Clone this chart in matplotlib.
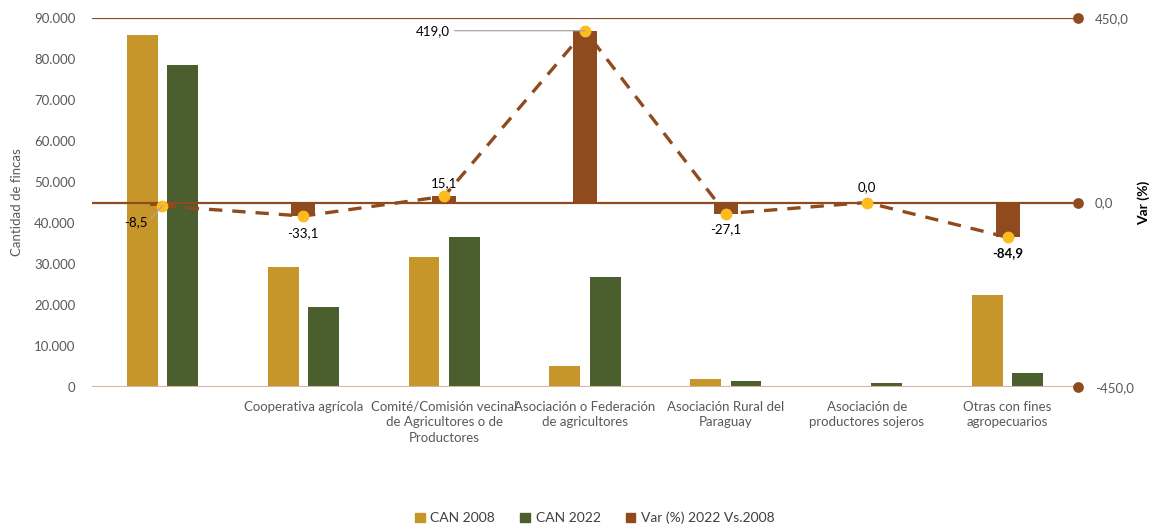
import matplotlib
matplotlib.use("Agg")
import matplotlib.pyplot as plt
import matplotlib.ticker as mticker
from matplotlib.patches import Patch
import numpy as np

# Data
categories = ["", "Cooperativa agrícola",
              "Comité/Comisión vecinal\nde Agricultores o de\nProductores",
              "Asociación o Federación\nde agricultores",
              "Asociación Rural del\nParaguay",
              "Asociación de\nproductores sojeros",
              "Otras con fines\nagropecuarios"]
can_2008 = [85800, 29200, 31800, 5150, 2000, 0, 22400]
can_2022 = [78500, 19500, 36600, 26750, 1460, 900, 3400]
var_pct = [-8.5, -33.1, 15.1, 419.0, -27.1, 0.0, -84.9]
var_labels = ["-8,5", "-33,1", "15,1", "419,0", "-27,1", "0,0", "-84,9"]

GOLD = "#C7962A"
GREEN = "#4A5E2E"
BROWN = "#8F4A1E"
DOT = "#FDBB1E"
GRAY = "#595959"

plt.rcParams['font.family'] = ['Lato', 'DejaVu Sans']

fig = plt.figure(figsize=(11.55, 5.31), dpi=100)
ax = fig.add_axes([92 / 1155, 1 - 387 / 531, (1078 - 92) / 1155, (387 - 18) / 531])
ax2 = ax.twinx()

x = np.arange(len(categories))
bw = 0.22
ax.bar(x - 0.143, can_2008, bw, color=GOLD, zorder=2)
ax.bar(x + 0.143, can_2022, bw, color=GREEN, zorder=2)

ax.set_xlim(-0.5, len(categories) - 0.5)
ax.set_ylim(0, 90000)
ax.set_yticks(range(0, 90001, 10000))
ax.yaxis.set_major_formatter(mticker.FuncFormatter(lambda v, p: f"{int(v):,}".replace(",", ".")))
ax.set_xticks(x)
ax.set_xticklabels(categories, fontsize=9.5, color=GRAY, linespacing=1.35)
ax.tick_params(axis='both', length=0, labelsize=9.5, labelcolor=GRAY)
ax.tick_params(axis='x', pad=10)
ax.tick_params(axis='y', pad=12)
for s in ax.spines.values():
    s.set_visible(False)
ax.set_ylabel("Cantidad de fincas", fontsize=9.5, color=GRAY, labelpad=8)

# secondary axis
ax2.set_ylim(-450, 450)
for s in ax2.spines.values():
    s.set_visible(False)
ax2.axhline(450, color=BROWN, lw=1.6, zorder=1)
ax2.axhline(0, color=BROWN, lw=1.6, zorder=1)
ax2.axhline(-450, color="#D8B3A0", lw=2.2, zorder=1)
ax2.scatter([len(categories) - 0.5] * 3, [450, 0, -450], s=45, color=BROWN, clip_on=False, zorder=5)
ax2.set_yticks([-450, 0, 450])
ax2.yaxis.set_major_formatter(mticker.FuncFormatter(lambda v, p: f"{v:.1f}".replace(".", ",")))
ax2.tick_params(axis='y', length=0, pad=12, labelsize=9.5, labelcolor=GRAY)
ax2.set_ylabel("Var (%)", fontsize=10, fontweight='bold', color="black", labelpad=3)

ax2.bar(x, var_pct, 0.17, color=BROWN, zorder=3)
ax2.plot(x, var_pct, color=BROWN, lw=2.4, ls=(0, (4, 3)), zorder=4)
ax2.plot(x, var_pct, ls='none', marker='o', ms=7.5, color=DOT, zorder=5)

# data labels (offsets in points)
offsets = [(-11, -12), (0, -12), (0, 9.5), (-97, 0), (0, -11.5), (0, 11), (0, -11)]
for i, (v, lab) in enumerate(zip(var_pct, var_labels)):
    dx, dy = offsets[i]
    if i in (0, 3):
        ax2.annotate(lab, (x[i], v), xytext=(dx, dy), textcoords='offset points',
                     ha='right', va='center', fontsize=9.5, color="black",
                     arrowprops=dict(arrowstyle='-', color="#A6A6A6", lw=0.9,
                                     shrinkA=1, shrinkB=0, relpos=(1, 0.5)),
                     zorder=6)
    else:
        ax2.annotate(lab, (x[i], v), xytext=(dx, dy), textcoords='offset points',
                     ha='center', va='center', fontsize=9.5, color="black",
                     fontweight='bold' if i == 6 else 'normal', zorder=6)

# legend
handles = [Patch(color=GOLD, label="CAN 2008"), Patch(color=GREEN, label="CAN 2022"),
           Patch(color=BROWN, label="Var (%) 2022 Vs.2008")]
fig.legend(handles=handles, loc='center', bbox_to_anchor=(0.515, 1 - 518 / 531), ncol=3,
           frameon=False, fontsize=10, handlelength=0.7, handleheight=0.7,
           handletextpad=0.4, columnspacing=1.8, labelcolor="#404040")

fig.savefig("out.png", dpi=100)
